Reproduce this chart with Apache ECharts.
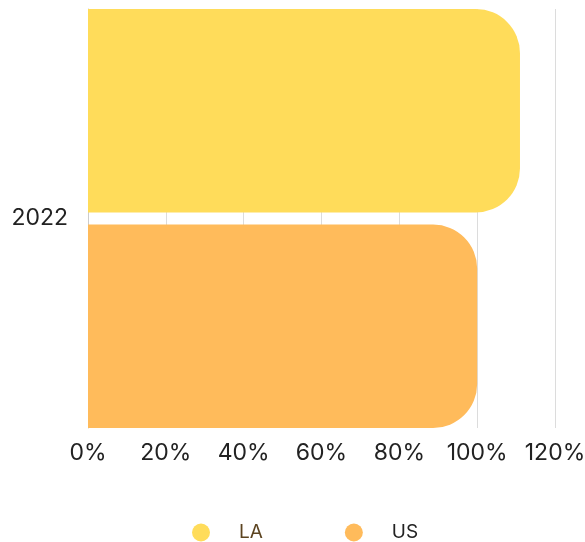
<!DOCTYPE html>
<html>
<head>
<meta charset="utf-8">
<script src="https://cdn.jsdelivr.net/npm/echarts@6/dist/echarts.min.js"></script>
<style>
html,body{margin:0;padding:0;background:#fff;}
#chart{width:585px;height:542px;}
</style>
</head>
<body>
<div id="chart"></div>
<script>
var categories = ['2022'];
var seriesNames = ['LA', 'US'];
var laValues = [111];
var usValues = [100];
var xTickMin = 0, xTickMax = 120, xTickStep = 20;

var chart = echarts.init(document.getElementById('chart'), null, {renderer: 'canvas'});
var FONT = 'Inter';
chart.setOption({
  animation: false,
  backgroundColor: '#ffffff',
  grid: {left: 88, right: 30, top: 9, bottom: 114, containLabel: false, outerBoundsMode: 'none'},
  legend: {
    left: 192, top: 523, padding: 0,
    itemWidth: 18, itemHeight: 18, itemGap: 82,
    icon: 'circle',
    data: [
      {name: seriesNames[0], textStyle: {color: '#5c4420'}},
      {name: seriesNames[1], textStyle: {color: '#222222'}}
    ],
    textStyle: {fontFamily: FONT, fontSize: 19, padding: [0, 0, 0, 24]}
  },
  xAxis: {
    type: 'value', min: xTickMin, max: xTickMax, interval: xTickStep,
    axisLine: {show: false}, axisTick: {show: false},
    splitLine: {show: true, lineStyle: {color: '#dcdcdc', width: 1}},
    axisLabel: {formatter: '{value}%', color: '#222222', fontFamily: FONT, fontSize: 23, margin: 14}
  },
  yAxis: {
    type: 'category', data: categories,
    axisLine: {show: true, lineStyle: {color: '#cccccc'}},
    axisTick: {show: false},
    axisLabel: {color: '#222222', fontFamily: FONT, fontSize: 23, margin: 20}
  },
  series: [
    {name: seriesNames[0], type: 'bar', data: laValues, barCategoryGap: '0%', barGap: '6%',
     itemStyle: {color: '#FFDC5A', borderRadius: [0, 44, 44, 0]}},
    {name: seriesNames[1], type: 'bar', data: usValues, barCategoryGap: '0%', barGap: '6%',
     itemStyle: {color: '#FFBB5B', borderRadius: [0, 44, 44, 0]}}
  ]
});
</script>
</body>
</html>
